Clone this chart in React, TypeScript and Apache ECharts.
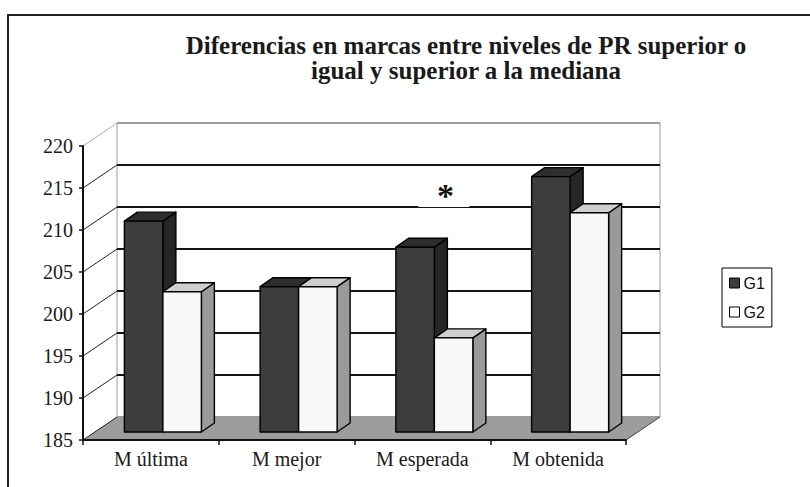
import { useEffect, useRef } from "react";
import * as echarts from "echarts";

// ---------- data ----------
const categories = ["M última", "M mejor", "M esperada", "M obtenida"];
const seriesNames = ["G1", "G2"];
const g1Values = [210.1, 202.3, 207.0, 215.4];
const g2Values = [201.7, 202.3, 196.2, 211.1];
const yTicks = [185, 190, 195, 200, 205, 210, 215, 220];
const yMin = 185;
const yMax = 220;
const yStep = 5;
// significance marker: [category index, level]
const significance = [[2, 212.5]];
const titleLines = [
  "Diferencias en marcas entre niveles de PR superior o",
  "igual y superior a la mediana",
];

// ---------- 3D look (layout constants) ----------
const WALL_DX = 34;
const WALL_DY = -23;
const BAR_DX = 12;
const BAR_DY = -8;
const DEPTH_DX = 13;
const DEPTH_DY = -9;
const BAR_W_RATIO = 0.2836;

const SERIF = "'Liberation Serif', 'DejaVu Serif', serif";
const SANS = "'Liberation Sans Narrow', 'Liberation Sans', Arial, sans-serif";

const faces = [
  { front: "#3d3d3d", top: "#2e2e2e", side: "#262626" },
  { front: "#f8f8f8", top: "#cfcfcf", side: "#9a9a9a" },
];

function barRenderer(idx: number) {
  return (params: any, api: any) => {
    const cat = api.value(0);
    const val = api.value(1);
    const top = api.coord([cat, val]);
    const base = api.coord([cat, yMin]);
    const band = api.size([1, 0])[0];
    const bw = band * BAR_W_RATIO;
    const x0 = top[0] + BAR_DX + (idx === 0 ? -bw : 0);
    const x1 = x0 + bw;
    const yt = top[1] + BAR_DY;
    const yb = base[1] + BAR_DY;
    const f = faces[idx];
    const st = { stroke: "#000", lineWidth: 1.4, lineJoin: "round" };
    return {
      type: "group",
      children: [
        {
          type: "polygon",
          shape: {
            points: [
              [x1, yt],
              [x1 + DEPTH_DX, yt + DEPTH_DY],
              [x1 + DEPTH_DX, yb + DEPTH_DY],
              [x1, yb],
            ],
          },
          style: { ...st, fill: f.side },
        },
        {
          type: "polygon",
          shape: {
            points: [
              [x0, yt],
              [x1, yt],
              [x1 + DEPTH_DX, yt + DEPTH_DY],
              [x0 + DEPTH_DX, yt + DEPTH_DY],
            ],
          },
          style: { ...st, fill: f.top },
        },
        {
          type: "rect",
          shape: { x: x0, y: yt, width: bw, height: yb - yt },
          style: { ...st, fill: f.front },
        },
      ],
    };
  };
}

function floorRenderer(params: any, api: any) {
  const cs = params.coordSys;
  const xl = cs.x;
  const xr = cs.x + cs.width;
  const yf = api.coord([0, yMin])[1];
  const children: any[] = [
    {
      type: "polygon",
      shape: {
        points: [
          [xl, yf],
          [xr, yf],
          [xr + WALL_DX, yf + WALL_DY],
          [xl + WALL_DX, yf + WALL_DY],
        ],
      },
      style: { fill: "#9c9c9c", stroke: null },
    },
    {
      type: "line",
      shape: { x1: xr, y1: yf, x2: xr + WALL_DX, y2: yf + WALL_DY },
      style: { stroke: "#444", lineWidth: 1 },
    },
  ];
  yTicks.forEach((t) => {
    const y = api.coord([0, t])[1];
    children.push({
      type: "line",
      shape: { x1: xl, y1: y, x2: xl + WALL_DX, y2: y + WALL_DY },
      style: { stroke: t === yMax ? "#aaa" : "#222", lineWidth: 1 },
    });
  });
  return { type: "group", children };
}

function sigRenderer(params: any, api: any) {
  const p = api.coord([api.value(0), api.value(1)]);
  const x = p[0] + 23;
  const y = p[1] - 14;
  return {
    type: "group",
    children: [
      {
        type: "rect",
        shape: { x: x - 27, y: y - 6, width: 51, height: 18 },
        style: { fill: "#fff", stroke: null },
      },
      {
        type: "text",
        x,
        y,
        style: {
          text: "*",
          fill: "#111",
          font: `bold 34px ${SERIF}`,
          align: "center",
          verticalAlign: "middle",
        },
      },
    ],
  };
}

export default function App() {
  const ref = useRef<HTMLDivElement>(null);
  useEffect(() => {
    if (!ref.current) return;
    const chart = echarts.init(ref.current, null, { renderer: "svg" });
    const backLineColors = yTicks.map((t) =>
      t === yMax || t === yMin ? "#9a9a9a" : "#151515"
    );
    chart.setOption({
      animation: false,
      backgroundColor: "#fff",
      title: {
        text: titleLines.join("\n"),
        left: 461,
        top: 28,
        textAlign: "center",
        textStyle: {
          fontFamily: SERIF,
          fontWeight: "bold",
          fontSize: 25,
          lineHeight: 25,
          color: "#1a1a1a",
        },
      },
      legend: {
        data: [
          { name: seriesNames[0], itemStyle: { color: faces[0].front, borderColor: "#000", borderWidth: 1 } },
          { name: seriesNames[1], itemStyle: { color: "#fff", borderColor: "#000", borderWidth: 1 } },
        ],
        orient: "vertical",
        left: 722,
        top: 268,
        icon: "rect",
        itemWidth: 10,
        itemHeight: 10,
        itemGap: 13,
        padding: [7, 7, 7, 7],
        borderColor: "#000",
        borderWidth: 1,
        selectedMode: false,
        textStyle: { fontFamily: SANS, fontSize: 16, color: "#111", padding: [0, 0, 0, -1] },
      },
      grid: [
        { left: 83, top: 146, width: 543, height: 294, show: false },
        {
          left: 83 + WALL_DX,
          top: 146 + WALL_DY,
          width: 543,
          height: 294,
          show: true,
          borderColor: "#9a9a9a",
          borderWidth: 1,
          backgroundColor: "transparent",
        },
      ],
      xAxis: [
        {
          type: "category",
          gridIndex: 0,
          data: categories,
          z: 5,
          axisLine: { show: true, lineStyle: { color: "#111", width: 2 } },
          axisTick: { show: true, interval: 0, length: 5, lineStyle: { color: "#111", width: 1.5 } },
          axisLabel: { fontFamily: SERIF, fontSize: 20, color: "#1a1a1a", margin: 9, interval: 0 },
          splitLine: { show: false },
        },
        {
          type: "category",
          gridIndex: 1,
          data: categories,
          show: false,
        },
      ],
      yAxis: [
        {
          type: "value",
          gridIndex: 0,
          min: yMin,
          max: yMax,
          interval: yStep,
          z: 5,
          axisLine: { show: true, lineStyle: { color: "#111", width: 2 } },
          axisTick: { show: true, length: 4, lineStyle: { color: "#111", width: 1.5 } },
          axisLabel: { fontFamily: SERIF, fontSize: 20, color: "#1a1a1a", margin: 10 },
          splitLine: { show: false },
        },
        {
          type: "value",
          gridIndex: 1,
          min: yMin,
          max: yMax,
          interval: yStep,
          axisLine: { show: false },
          axisTick: { show: false },
          axisLabel: { show: false },
          splitLine: { show: true, lineStyle: { color: backLineColors, width: 2 } },
        },
      ],
      series: [
        {
          type: "custom",
          name: "floor",
          xAxisIndex: 0,
          yAxisIndex: 0,
          z: 2,
          silent: true,
          data: [[0, yMin]],
          renderItem: floorRenderer,
        },
        {
          type: "custom",
          name: seriesNames[0],
          xAxisIndex: 0,
          yAxisIndex: 0,
          z: 3,
          itemStyle: { color: faces[0].front },
          data: g1Values.map((v, i) => [i, v]),
          encode: { x: 0, y: 1 },
          renderItem: barRenderer(0),
        },
        {
          type: "custom",
          name: seriesNames[1],
          xAxisIndex: 0,
          yAxisIndex: 0,
          z: 3,
          itemStyle: { color: "#fff" },
          data: g2Values.map((v, i) => [i, v]),
          encode: { x: 0, y: 1 },
          renderItem: barRenderer(1),
        },
        {
          type: "custom",
          name: "sig",
          xAxisIndex: 0,
          yAxisIndex: 0,
          z: 3,
          silent: true,
          data: significance,
          renderItem: sigRenderer,
        },
      ],
      graphic: [
        {
          type: "rect",
          silent: true,
          z: 100,
          shape: { x: 8, y: 15, width: 900, height: 600 },
          style: { fill: "none", stroke: "#222", lineWidth: 2 },
        },
      ],
    });
    return () => chart.dispose();
  }, []);
  return (
    <div
      ref={ref}
      style={{ position: "fixed", left: 0, top: 0, width: 810, height: 487 }}
    />
  );
}
